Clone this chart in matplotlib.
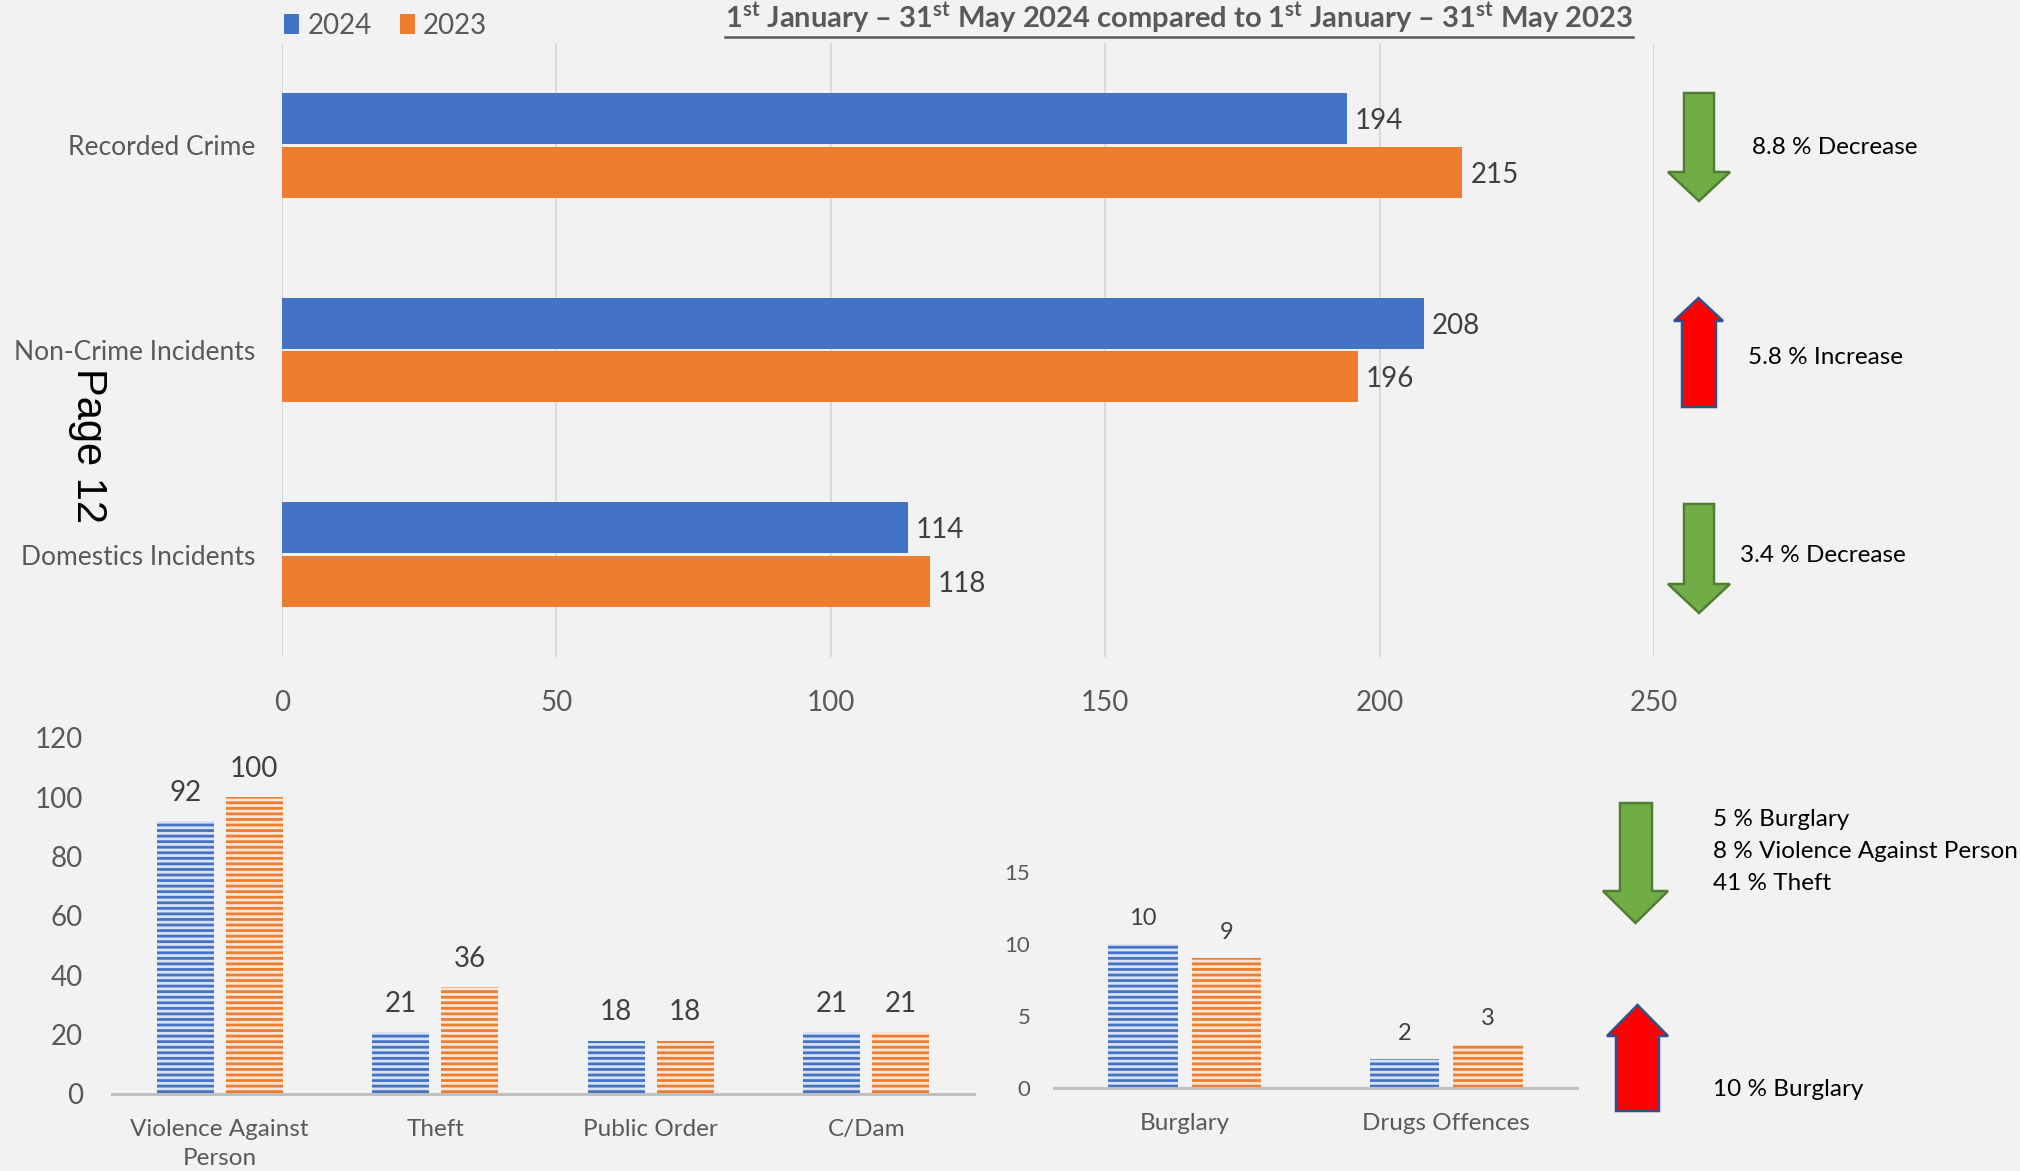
import matplotlib
matplotlib.use('agg')
import matplotlib.pyplot as plt
from matplotlib.patches import Polygon
from matplotlib.lines import Line2D
import numpy as np

plt.rcParams['font.family'] = ['Lato', 'DejaVu Sans']
plt.rcParams['mathtext.fontset'] = 'custom'
plt.rcParams['mathtext.rm'] = 'Lato'
plt.rcParams['mathtext.bf'] = 'Lato:bold'
plt.rcParams['hatch.linewidth'] = 2.0

# data
years = ['2024', '2023']
top_categories = ['Recorded Crime', 'Non-Crime Incidents', 'Domestics Incidents']
top_2024 = [194, 208, 114]
top_2023 = [215, 196, 118]
top_changes = ['8.8 % Decrease', '5.8 % Increase', '3.4 % Decrease']

left_categories = ['Violence Against\nPerson', 'Theft', 'Public Order', 'C/Dam']
left_2024 = [92, 21, 18, 21]
left_2023 = [100, 36, 18, 21]

right_categories = ['Burglary', 'Drugs Offences']
right_2024 = [10, 2]
right_2023 = [9, 3]

down_notes = ['5 % Burglary', '8 % Violence Against Person', '41 % Theft']
up_notes = ['10 % Burglary']

BLUE = '#4472C4'
ORANGE = '#ED7D31'
LIGHT_BLUE = '#DAE3F3'
LIGHT_ORANGE = '#FBE5D6'
GREY = '#595959'
DARK = '#404040'
BG = '#F2F2F2'

W, H = 2020, 1171
fig = plt.figure(figsize=(W / 100, H / 100), dpi=100, facecolor=BG)

# overlay in pixel coordinates for the arrows and notes
over = fig.add_axes([0, 0, 1, 1], zorder=0)
over.set_xlim(0, W)
over.set_ylim(H, 0)
over.axis('off')


def px_axes(x0, y0, x1, y1):
    """Axes from pixel box (top-left origin)."""
    return fig.add_axes([x0 / W, 1 - y1 / H, (x1 - x0) / W, (y1 - y0) / H],
                        zorder=1)


# ---- top horizontal bar chart
ax = px_axes(282, 43, 1654, 657)
ax.set_facecolor('none')
pos = np.arange(len(top_categories))
bh = 0.25
ax.barh(pos - 0.131, top_2024, height=bh, color=BLUE, label=years[0], zorder=2)
ax.barh(pos + 0.131, top_2023, height=bh, color=ORANGE, label=years[1], zorder=2)
for p, v in zip(pos, top_2024):
    ax.annotate(str(v), (v, p - 0.131), xytext=(6, 0), textcoords='offset points',
                va='center_baseline', ha='left', fontsize=20, color=DARK)
for p, v in zip(pos, top_2023):
    ax.annotate(str(v), (v, p + 0.131), xytext=(6, 0), textcoords='offset points',
                va='center_baseline', ha='left', fontsize=20, color=DARK)
ax.set_xlim(0, 250)
ax.set_ylim(2.5, -0.5)
ax.set_xticks(np.arange(0, 251, 50))
ax.set_yticks(pos, top_categories)
ax.grid(axis='x', color='#D9D9D9', lw=1.4, zorder=0)
for s in ax.spines.values():
    s.set_visible(False)
ax.tick_params(axis='x', length=0, pad=24, labelsize=20, labelcolor=GREY)
ax.tick_params(axis='y', length=0, pad=19, labelsize=19, labelcolor=GREY)
ax.legend(loc='center left', bbox_to_anchor=(284 / W, 1 - 26 / H),
          bbox_transform=fig.transFigure, ncol=2, frameon=False,
          fontsize=20, labelcolor=GREY, handlelength=0.55, handleheight=0.75,
          handletextpad=0.3, columnspacing=1.0, borderpad=0, borderaxespad=0)

# title
title = fig.text(1179 / W, 1 - 18 / H,
                 r'1$^{\mathbf{st}}$ January – 31$^{\mathbf{st}}$ May 2024 compared to '
                 r'1$^{\mathbf{st}}$ January – 31$^{\mathbf{st}}$ May 2023',
                 ha='center', va='center', fontsize=21, fontweight='bold',
                 color=GREY)

# ---- bottom left column chart
ax2 = px_axes(112, 738, 974, 1094)
ax2.set_facecolor('none')
x = np.arange(len(left_categories))
bw = 0.265
ax2.bar(x - 0.16, left_2024, bw, color=LIGHT_BLUE, edgecolor=BLUE, hatch='---', lw=0)
ax2.bar(x + 0.16, left_2023, bw, color=LIGHT_ORANGE, edgecolor=ORANGE, hatch='---', lw=0)
for xi, v in zip(x - 0.16, left_2024):
    ax2.annotate(str(v), (xi, v), xytext=(0, 14.5), textcoords='offset points',
                 ha='center', va='baseline', fontsize=20, color=DARK)
for xi, v in zip(x + 0.16, left_2023):
    ax2.annotate(str(v), (xi, v), xytext=(0, 14.5), textcoords='offset points',
                 ha='center', va='baseline', fontsize=20, color=DARK)
ax2.set_xlim(-0.5, len(left_categories) - 0.5)
ax2.set_ylim(0, 120)
ax2.set_yticks(np.arange(0, 121, 20))
ax2.set_xticks(x, left_categories, linespacing=1.45, va='top')
for s in ['top', 'right', 'left']:
    ax2.spines[s].set_visible(False)
ax2.spines['bottom'].set_color('#BFBFBF')
ax2.spines['bottom'].set_linewidth(2.2)
ax2.tick_params(axis='y', length=0, pad=21, labelsize=20, labelcolor=GREY)
ax2.tick_params(axis='x', length=0, pad=18, labelsize=17.5, labelcolor=GREY)

# ---- bottom right column chart
ax3 = px_axes(1054, 872, 1577, 1088)
ax3.set_facecolor('none')
x3 = np.arange(len(right_categories))
ax3.bar(x3 - 0.16, right_2024, bw, color=LIGHT_BLUE, edgecolor=BLUE, hatch='---', lw=0)
ax3.bar(x3 + 0.16, right_2023, bw, color=LIGHT_ORANGE, edgecolor=ORANGE, hatch='---', lw=0)
for xi, v in zip(x3 - 0.16, right_2024):
    ax3.annotate(str(v), (xi, v), xytext=(0, 14), textcoords='offset points',
                 ha='center', va='baseline', fontsize=17, color=DARK)
for xi, v in zip(x3 + 0.16, right_2023):
    ax3.annotate(str(v), (xi, v), xytext=(0, 14), textcoords='offset points',
                 ha='center', va='baseline', fontsize=17, color=DARK)
ax3.set_xlim(-0.5, len(right_categories) - 0.5)
ax3.set_ylim(0, 15)
ax3.set_yticks(np.arange(0, 16, 5))
ax3.set_xticks(x3, right_categories)
for s in ['top', 'right', 'left']:
    ax3.spines[s].set_visible(False)
ax3.spines['bottom'].set_color('#BFBFBF')
ax3.spines['bottom'].set_linewidth(2.2)
ax3.tick_params(axis='y', length=0, pad=17, labelsize=16, labelcolor=GREY)
ax3.tick_params(axis='x', length=0, pad=18, labelsize=17.5, labelcolor=GREY)


# ---- arrows and notes
def arrow(sx0, sx1, hx0, hx1, y_tail, y_head, y_tip, face, edge):
    pts = [(sx0, y_tail), (sx1, y_tail), (sx1, y_head), (hx1, y_head),
           ((hx0 + hx1) / 2, y_tip), (hx0, y_head), (sx0, y_head)]
    over.add_patch(Polygon(pts, closed=True, facecolor=face, edgecolor=edge,
                           lw=1.8, joinstyle='miter'))


GREEN, GREEN_EDGE = '#70AD47', '#507E32'
RED, RED_EDGE = '#FF0000', '#2F528F'
arrow(1684, 1714, 1668, 1730, 93, 172, 201, GREEN, GREEN_EDGE)
arrow(1682, 1716, 1674, 1723, 407, 321, 298, RED, RED_EDGE)
arrow(1684, 1714, 1668, 1730, 504, 584, 613, GREEN, GREEN_EDGE)
arrow(1620, 1652, 1603, 1668, 803, 891, 923, GREEN, GREEN_EDGE)
arrow(1616, 1659, 1607, 1668, 1111, 1036, 1005, RED, RED_EDGE)

for (tx, ty), t in zip([(1752, 147), (1748, 358), (1740, 556)], top_changes):
    over.text(tx, ty, t, ha='left', va='center', fontsize=17.5, color='black')
for i, t in enumerate(down_notes):
    over.text(1713, 819 + 32 * i, t, ha='left', va='center', fontsize=17.5, color='black')
over.text(1713, 1089, up_notes[0], ha='left', va='center', fontsize=17.5, color='black')

over.text(88, 446, 'Page 12', rotation=-90, ha='center', va='center',
          fontsize=30, color='black', family='Liberation Sans')

# underline for the title
fig.canvas.draw()
bb = title.get_window_extent()
fig.add_artist(Line2D([bb.x0 / W, bb.x1 / W], [(bb.y0 - 1) / H] * 2,
                      transform=fig.transFigure, color=GREY, lw=1.8))

fig.savefig('out.png', dpi=100, facecolor=BG)
